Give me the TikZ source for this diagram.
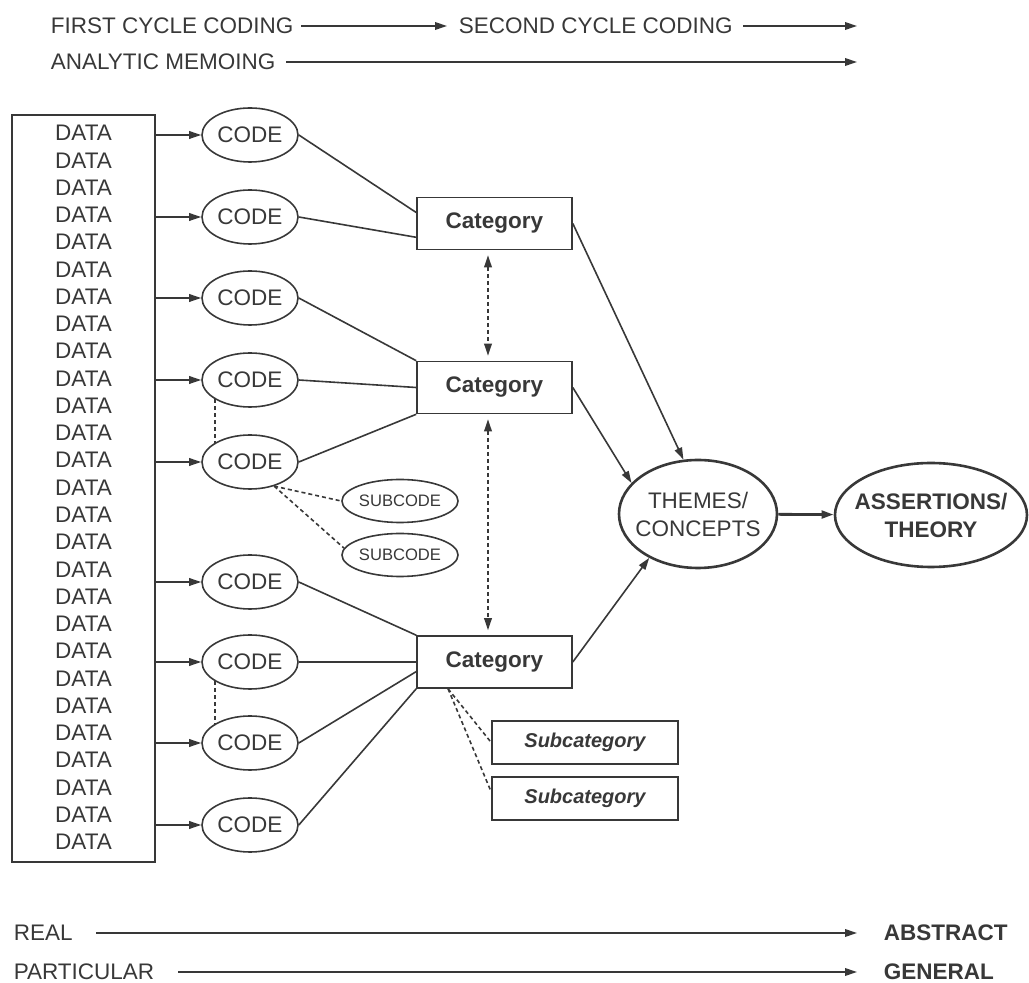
\documentclass[tikz,border=0pt]{standalone}
\usepackage{fontspec}
\setmainfont{Liberation Sans}
\usetikzlibrary{shapes.geometric, arrows.meta}

\definecolor{ink}{gray}{0.22}
\newcommand{\lbl}{\fontsize{11.25}{14}\selectfont}

\begin{document}
\begin{tikzpicture}[x=0.5pt, y=-0.5pt, color=ink, line width=0.8pt,
    >={Triangle[length=6pt,width=3.8pt]},
    every node/.style={font=\lbl},
    txt/.style={inner sep=0pt, anchor=west},
    code/.style={ellipse, draw, minimum width=48pt, minimum height=27pt, inner sep=0pt},
    subcode/.style={ellipse, draw, minimum width=57pt, minimum height=21.5pt, inner sep=0pt,
      font=\fontsize{8.3}{10}\selectfont},
    cat/.style={rectangle, draw, minimum width=77.5pt, minimum height=26pt, inner sep=0pt,
      font=\lbl\bfseries},
    subcat/.style={rectangle, draw, minimum width=93pt, minimum height=21.5pt, inner sep=0pt,
      font=\fontsize{10}{12}\selectfont\bfseries\itshape},
    hub/.style={ellipse, draw, line width=1.3pt, inner ysep=0pt, align=center},
    link/.style={dashed, dash pattern=on 2pt off 1.5pt}]
  \useasboundingbox (0,0) rectangle (1029,983);

  % coding cycles
  \node[txt] (first) at (50,26) {FIRST CYCLE CODING};
  \node[txt] (second) at (458,26) {SECOND CYCLE CODING};
  \coordinate (second end) at (857,26);
  \node[txt] (memo) at (50,62) {ANALYTIC MEMOING};
  \coordinate (memo end) at (857,62);

  \draw[->, shorten <=3.5pt, shorten >=5.5pt] (first) -- (second);
  \draw[->, shorten <=5pt] (second) -- (second end);
  \draw[->, shorten <=5pt] (memo) -- (memo end);

  % data column
  \node[draw, minimum width=71.5pt, minimum height=373.5pt, inner sep=0pt] (data) at (83.5,488.5) {};
  \foreach \i in {0,...,26}
    \node (d\i) at (83.5,{133+27.27*\i}) {DATA};

  % codes
  \foreach \n/\y in {1/135, 2/217, 3/298, 4/380, 5/462, 6/582, 7/662, 8/743, 9/825} {
    \node[code] (code\n) at (250,\y) {CODE};
    \draw[->] (code\n -| data.east) -- (code\n);
  }
  \node[subcode] (sub1) at (400,501) {SUBCODE};
  \node[subcode] (sub2) at (400,555) {SUBCODE};

  % categories
  \node[cat] (cat1) at (494.5,223.5) {Category};
  \node[cat] (cat2) at (494.5,387.5) {Category};
  \node[cat] (cat3) at (494.5,662) {Category};
  \node[subcat] (subcat1) at (585,742.5) {Subcategory};
  \node[subcat] (subcat2) at (585,798.5) {Subcategory};

  % themes and theory
  \node[hub, minimum width=79pt, minimum height=54pt, inner xsep=-4pt] (themes) at (698,514) {THEMES/\\CONCEPTS};
  \node[hub, minimum width=96pt, minimum height=52pt, inner xsep=-6pt, font=\lbl\bfseries] (theory) at (931,515) {ASSERTIONS/\\THEORY};

  \path
    (code1.east) edge (cat1.172)
    (code2.east) edge (cat1.190)
    (code3.east) edge (cat2.north west)
    (code4.east) edge (cat2.west)
    (code5.east) edge (cat2.south west)
    (code6.east) edge (cat3.north west)
    (code7.east) edge (cat3.west)
    (code8.east) edge (cat3.187)
    (code9.east) edge (cat3.south west);

  \path[link]
    (code4.209) edge (code5.151)
    (code7.209) edge (code8.151)
    (code5.-45) edge (sub1.west)
    (code5.-45) edge (sub2.173)
    (cat3.210) edge (subcat1.west)
    (cat3.210) edge (subcat2.176);

  \path[link, <->, shorten <=2.5pt, shorten >=2.5pt]
    ([xshift=-3.25pt]cat1.south) edge ([xshift=-3.25pt]cat2.north)
    ([xshift=-3.25pt]cat2.south) edge ([xshift=-3.25pt]cat3.north);

  \path[->]
    (cat1.east) edge (themes.105)
    (cat2.east) edge (themes.155)
    (cat3.east) edge (themes.222);
  \draw[->, line width=1.4pt] (themes) -- (theory);

  % real to abstract
  \node[txt] (real) at (13,933) {REAL};
  \node[txt, font=\lbl\bfseries] (abstract) at (883,933) {ABSTRACT};
  \node[txt] (particular) at (13,972) {PARTICULAR};
  \node[txt, font=\lbl\bfseries] (general) at (883,972) {GENERAL};

  \draw[->, shorten <=11.5pt, shorten >=13pt] (real) -- (abstract);
  \draw[->, shorten <=11.5pt, shorten >=13pt] (particular) -- (general);
\end{tikzpicture}
\end{document}
